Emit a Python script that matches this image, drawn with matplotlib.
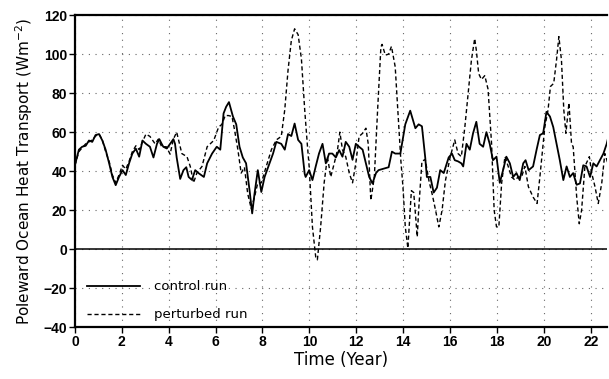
import matplotlib
matplotlib.use("Agg")
import matplotlib.pyplot as plt

# ---- data ----
control_t = [0.0, 0.17, 0.31, 0.46, 0.6, 0.74, 0.88, 1.03, 1.17, 1.31, 1.46, 1.6, 1.74, 1.88, 2.03,
             2.17, 2.31, 2.45, 2.6, 2.74, 2.88, 3.03, 3.2, 3.35, 3.5, 3.6, 3.7, 3.77, 3.92, 4.06,
             4.2, 4.27, 4.34, 4.49, 4.63, 4.75, 4.85, 4.99, 5.13, 5.27, 5.5, 5.64, 5.85, 6.05,
             6.2, 6.34, 6.45, 6.57, 6.74, 6.88, 7.02, 7.16, 7.3, 7.45, 7.56, 7.66, 7.8, 7.95,
             8.09, 8.3, 8.45, 8.59, 8.8, 8.95, 9.09, 9.23, 9.37, 9.52, 9.66, 9.8, 9.84, 9.99,
             10.13, 10.27, 10.41, 10.56, 10.7, 10.84, 10.98, 11.13, 11.27, 11.41, 11.55, 11.7,
             11.84, 11.98, 12.12, 12.27, 12.41, 12.55, 12.69, 12.84, 12.95, 13.38, 13.52, 13.66,
             13.88, 14.09, 14.3, 14.52, 14.66, 14.8, 14.94, 15.01, 15.16, 15.3, 15.44, 15.58,
             15.73, 15.94, 16.08, 16.2, 16.34, 16.48, 16.56, 16.7, 16.84, 16.98, 17.12, 17.26,
             17.41, 17.55, 17.69, 17.83, 17.98, 18.12, 18.26, 18.4, 18.55, 18.69, 18.83, 18.97,
             19.12, 19.22, 19.35, 19.54, 19.69, 19.83, 19.97, 20.11, 20.26, 20.4, 20.54, 20.68,
             20.83, 20.97, 21.11, 21.25, 21.4, 21.54, 21.68, 21.82, 21.97, 22.11, 22.25, 22.39,
             22.54, 22.68, 22.82]
control_v = [43, 51, 52.5, 53, 55.7, 55, 58.5, 59, 55.7, 51, 44, 37, 32.8, 37, 40.5,
             38, 44, 49, 51.5, 47.4, 55.7, 54, 52.5, 47, 54, 56.4, 54, 52.5, 51.6, 54,
             56.4, 54, 47, 36, 40.5, 42, 37, 35.5, 40.5, 39, 37, 44, 49, 52.5,
             51, 69.6, 73, 75.4, 68, 64, 52.5, 47, 44, 30, 18.3, 28.4, 40.5, 29.3,
             37, 44, 49, 55, 54, 51, 59, 58, 64.4, 56, 54, 38.6, 37, 40.5,
             35.4, 42.4, 49, 54, 44, 49, 49, 47, 50.8, 47.4, 55, 52.5,
             45.8, 54, 52.5, 51, 44, 37, 33.7, 39, 40.5, 42, 50, 49,
             49, 64, 71, 62, 64, 63, 47, 37, 37, 29, 31.5, 40.5,
             39, 47, 49, 45.6, 45, 44, 42.4, 54, 51, 59.4, 65.3, 54,
             52.5, 60, 54, 45.6, 47.4, 34, 40.5, 47.4, 44, 37, 39, 35.4,
             44, 45.6, 40.5, 42.4, 51, 58.5, 59.4, 70.4, 68, 62.6, 54, 45.6,
             35.4, 42.4, 37, 39, 33, 33.7, 43, 42.4, 37, 44, 42.4, 45.6,
             49, 54, 61]

perturbed_t = [0.0, 0.17, 0.31, 0.46, 0.6, 0.74, 0.88, 1.03, 1.17, 1.31, 1.46, 1.6, 1.74, 1.88, 2.03,
               2.17, 2.31, 2.45, 2.6, 2.74, 2.88, 3.03, 3.2, 3.42, 3.56, 3.7, 3.9, 4.06, 4.2, 4.34,
               4.56, 4.78, 4.92, 5.06, 5.2, 5.42, 5.64, 5.92, 6.13, 6.27, 6.41, 6.55, 6.7, 6.81,
               6.95, 7.09, 7.23, 7.37, 7.52, 7.66, 7.8, 7.95, 8.16, 8.38, 8.59, 8.8, 8.95, 9.09,
               9.23, 9.37, 9.52, 9.66, 9.8, 9.91, 9.99, 10.13, 10.27, 10.34, 10.48, 10.63, 10.77,
               10.91, 11.06, 11.2, 11.3, 11.41, 11.55, 11.7, 11.84, 11.98, 12.12, 12.27, 12.41,
               12.51, 12.62, 12.77, 12.91, 13.05, 13.1, 13.24, 13.38, 13.5, 13.66, 13.9, 13.99,
               14.09, 14.2, 14.35, 14.45, 14.6, 14.66, 14.8, 14.94, 15.1, 15.24, 15.38, 15.52,
               15.66, 15.8, 16.0, 16.2, 16.34, 16.48, 16.63, 16.77, 16.91, 17.05, 17.12, 17.22,
               17.34, 17.48, 17.62, 17.77, 17.88, 17.98, 18.08, 18.2, 18.34, 18.48, 18.62, 18.77,
               18.91, 19.05, 19.19, 19.34, 19.54, 19.71, 19.83, 19.97, 20.04, 20.18, 20.28, 20.42,
               20.54, 20.64, 20.75, 20.85, 20.94, 21.07, 21.18, 21.25, 21.4, 21.51, 21.61, 21.75,
               21.94, 22.04, 22.18, 22.32, 22.47, 22.6, 22.82]
perturbed_v = [43, 50, 52, 54, 55, 56, 58, 59, 56, 50, 45, 38, 34, 38, 43,
               41, 45, 50, 53, 51, 55, 59, 57.8, 54, 56.4, 52.5, 52.5, 48.7, 56.4, 60,
               49, 47.4, 42.4, 34, 39, 42.4, 52.5, 55.7, 62.6, 64, 68.5, 68.5, 68, 61,
               51, 39, 42, 28.4, 20.8, 26.7, 34, 34, 42.4, 51, 56, 57.8, 71.5, 91.8,
               107, 113, 110, 97.6, 71.5, 54, 42.4, 11.4, -4, -5.5, 11.4, 34, 47.4,
               37, 44, 51, 60, 51, 47.4, 39, 34, 44, 57.8, 59.4, 62,
               54, 25, 37, 71.5, 103.7, 105, 99.5, 100, 104, 93.5, 45.6, 32,
               11.4, 0.5, 30, 29, 6.3, 20, 45, 46, 35, 28, 20, 11.4,
               20, 35, 47, 56, 49, 47.4, 62.6, 79.8, 96.9, 108, 102, 90,
               87, 89, 82, 54, 20, 11.4, 11.4, 34, 47.4, 42.4, 37, 35.4,
               37, 37, 42.4, 32, 26.7, 23.4, 37, 54, 62.6, 71.5, 83.4, 85,
               97, 109, 97, 71.5, 59.4, 75, 54, 52.5, 26.7, 13, 20, 42.4,
               47.4, 39, 32, 23.4, 34, 49, 40.5]

x_ticks = list(range(0, 24, 2))
y_ticks = list(range(-40, 121, 20))

# ---- figure ----
fig = plt.figure(figsize=(6.09, 3.79), dpi=100)
ax = fig.add_axes([0.123, 0.137, 0.874, 0.823])

ax.plot(control_t, control_v, color="black", lw=1.3, label="control run")
ax.plot(perturbed_t, perturbed_v, color="black", lw=1.0, linestyle=(0, (3, 2)),
        label="perturbed run")
ax.axhline(0, color="black", lw=1.1)

ax.set_xlim(0, 22.7)
ax.set_ylim(-40, 120)
ax.set_xticks(x_ticks)
ax.set_yticks(y_ticks)
ax.grid(True, linestyle=(0, (1, 5)), color="#666666", lw=0.8)

for s in ["left", "bottom", "top"]:
    ax.spines[s].set_linewidth(1.6)
ax.spines["right"].set_visible(False)
ax.tick_params(direction="out", length=4, width=1, labelsize=10, pad=1.5)
for lab in ax.get_xticklabels() + ax.get_yticklabels():
    lab.set_fontfamily("Liberation Sans")
    lab.set_fontweight("bold")

ax.set_xlabel("Time (Year)", fontsize=12, family="DejaVu Sans", labelpad=2)
ax.set_ylabel("Poleward Ocean Heat Transport (Wm$^{-2}$)", fontsize=11,
              family="DejaVu Sans", labelpad=6)

ax.legend(loc="lower left", frameon=False, handlelength=4.0, handletextpad=1.1,
          labelspacing=1.15, fontsize=9.5, bbox_to_anchor=(0.0, -0.02))

fig.savefig("out.png", dpi=100)
